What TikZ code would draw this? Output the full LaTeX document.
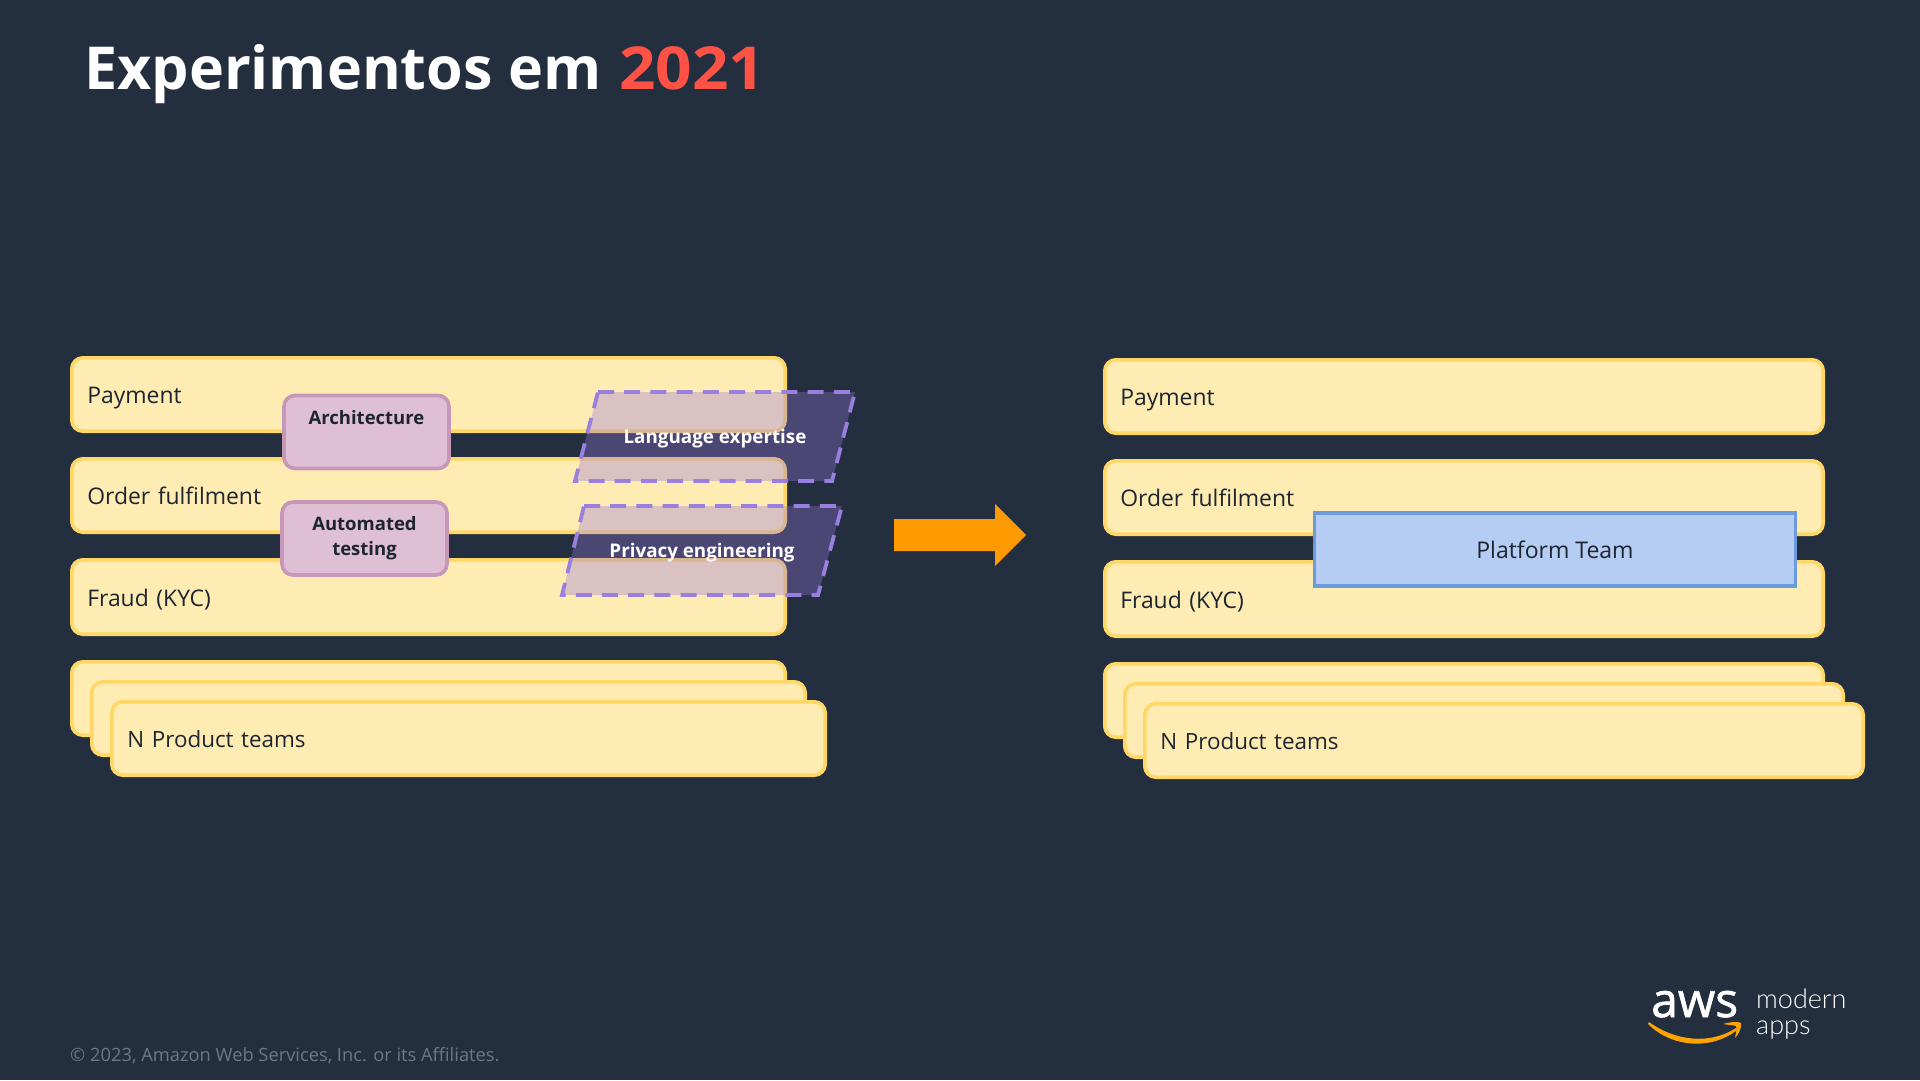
\documentclass[tikz,border=0pt]{standalone}
\usepackage{graphicx}
\usepackage{fontspec}
\setmainfont{Open Sans}
\newfontfamily\lightfont{Lato Light}
\newfontfamily\logofont[FakeBold=1.4]{Open Sans}
\usetikzlibrary{shapes.geometric}
\definecolor{bgc}{HTML}{232F3E}
\definecolor{barf}{HTML}{FFECB3}
\definecolor{bard}{HTML}{FFD767}
\definecolor{inkc}{HTML}{1D2530}
\definecolor{pinkf}{HTML}{DFBFD4}
\definecolor{pinkd}{HTML}{C797BA}
\definecolor{purp}{HTML}{9576DE}
\definecolor{purpd}{HTML}{9A80DE}
\definecolor{bluef}{HTML}{B5CCF3}
\definecolor{blued}{HTML}{6C9BDD}
\definecolor{redc}{HTML}{FF5247}
\definecolor{orangec}{HTML}{FF9900}
\definecolor{grayc}{HTML}{6E7883}
\tikzset{
  x=1pt,y=-1pt,
  teambar/.style={draw=bard,fill=barf,line width=3.6pt,rounded corners=11pt,inner xsep=0pt,inner ysep=0pt,text=inkc,font=\fontsize{22.9}{27}\selectfont,align=left,text height=23pt,text depth=5pt},
  skillbox/.style={draw=pinkd,fill=pinkf,line width=3.6pt,rounded corners=11pt,inner sep=0pt,text=inkc,font=\bfseries\fontsize{18.5}{25}\selectfont,align=center,minimum width=165pt,minimum height=73pt},
  platebox/.style={draw=blued,fill=bluef,line width=3.6pt,inner sep=0pt,text=inkc,font=\fontsize{23}{27}\selectfont,minimum width=481pt,minimum height=73.5pt},
  skewshape/.style={draw=purpd,line width=3.8pt,dash pattern=on 16pt off 10.2pt,fill=purp,fill opacity=.35,draw opacity=1},
  skewlabel/.style={text=white,font=\bfseries\fontsize{18.8}{24}\selectfont,inner sep=0pt},
  plainlabel/.style={inner sep=0pt,anchor=base west},
}
\newcommand{\teamnode}[6]{%
  \node[teambar,minimum width={#4-#2-3.6pt},minimum height={#5-#3-3.6pt},text width={#4-#2-3.6pt-31pt}] (#1) at ({(#2+#4)/2},{(#3+#5)/2}) {#6};}
\newcommand{\nteams}{\fontsize{22.4}{27}\selectfont N Product teams}
\begin{document}
\begin{tikzpicture}
\useasboundingbox (0,0) rectangle (1920,1080);
\fill[bgc] (0,0) rectangle (1920,1080);
\node[plainlabel,text=white,font=\bfseries\fontsize{59.2}{70}\selectfont] (title) at (84,89) {Experimentos em\hspace{2.5pt} \textcolor{redc}{\scalebox{1.08}[1]{2021}}};

% left column
\teamnode{lpay}{70}{356}{787}{433}{Payment}
\teamnode{lord}{70}{457}{787}{534}{Order fulfilment}
\teamnode{lfra}{70}{558}{787}{636}{Fraud (KYC)}
\teamnode{ln1}{70}{660}{787}{737}{}
\teamnode{ln2}{90}{680}{807}{757}{}
\teamnode{ln3}{110}{700}{827}{777}{\nteams}
\node[skillbox] (arch) at (366.5,432) {\raisebox{4pt}{Architecture}\\\mbox{}};
\node[skillbox] (auto) at (364.5,538.5) {Automated\\testing};

\draw[skewshape] (598,392) -- (855,392) -- (832,481) -- (575,481) -- cycle;
\node[skewlabel] (lang) at (715,439) {Language expertise};
\draw[skewshape] (584,506) -- (842,506) -- (818,595) -- (562,595) -- cycle;
\node[skewlabel] (priv) at (702,552.5) {Privacy engineering};

% arrow
\fill[orangec] (894,519) -- (995,519) -- (995,504) -- (1026,535) -- (995,566) -- (995,551) -- (894,551) -- cycle;

% right column
\teamnode{rpay}{1103}{358}{1825}{435}{Payment}
\teamnode{rord}{1103}{459}{1825}{536}{Order fulfilment}
\teamnode{rfra}{1103}{560}{1825}{638}{Fraud (KYC)}
\teamnode{rn1}{1103}{662}{1825}{739}{}
\teamnode{rn2}{1123}{682}{1845}{759}{}
\teamnode{rn3}{1143}{702}{1865}{779}{\nteams}
\node[platebox] (plat) at (1555,549.5) {Platform Team};

% footer
\node[plainlabel,text=grayc,font=\fontsize{18.3}{22}\selectfont] (copy) at (70,1061) {© 2023, Amazon Web Services, Inc. or its Affiliates.};
\node[plainlabel,text=white,font=\logofont\fontsize{48}{50}\selectfont] (aws) at (1651,1017) {aws};
\begin{scope}[yshift=2pt]
\fill[orangec!90!yellow] (1649,1024) .. controls (1675,1043) and (1710,1047) .. (1736,1030) -- (1737,1032) .. controls (1712,1052) and (1672,1050) .. (1648,1026) -- cycle;
\fill[orangec!90!yellow] (1723,1026) .. controls (1730,1024) and (1738,1023) .. (1741,1025) .. controls (1742,1029) and (1739,1036) .. (1735,1040) .. controls (1736,1035) and (1737,1030) .. (1736,1028) .. controls (1733,1027) and (1728,1027) .. (1723,1026) -- cycle;
\end{scope}
\node[plainlabel,text=white,font=\lightfont\fontsize{27}{30}\selectfont] (modern) at (1756,1008) {modern};
\node[plainlabel,text=white,font=\lightfont\fontsize{27}{30}\selectfont] (apps) at (1756,1034) {apps};
\end{tikzpicture}
\end{document}
